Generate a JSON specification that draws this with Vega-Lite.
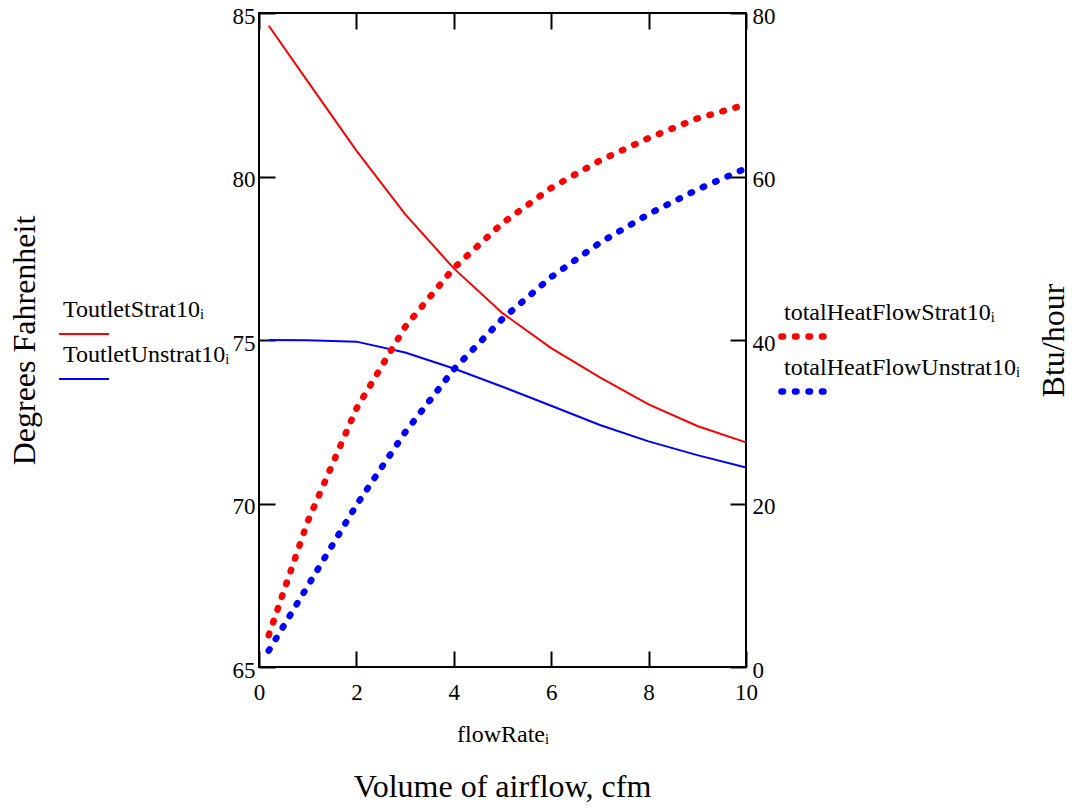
{
  "$schema": "https://vega.github.io/schema/vega-lite/v6.json",
  "width": 487,
  "height": 654,
  "autosize": {"type": "none"},
  "padding": {"left": 259, "top": 13, "right": 332, "bottom": 142},
  "background": "white",
  "config": {
    "font": "Liberation Serif",
    "view": {"stroke": "black", "strokeWidth": 2},
    "axis": {
      "domain": false,
      "grid": false,
      "tickColor": "black",
      "tickWidth": 2,
      "labelColor": "black",
      "titleColor": "black",
      "labelFont": "Liberation Serif",
      "titleFont": "Liberation Serif",
      "labelFontSize": 23,
      "labelFlush": false,
      "titleFontWeight": "normal"
    }
  },
  "title": {
    "text": "Volume of airflow, cfm",
    "orient": "bottom",
    "fontSize": 32,
    "fontWeight": "normal",
    "font": "Liberation Serif",
    "color": "black",
    "anchor": "middle",
    "offset": 26
  },
  "datasets": {
    "temp": [
      {"flowRate": 0.2, "series": "ToutletStrat10", "value": 84.61},
      {"flowRate": 1, "series": "ToutletStrat10", "value": 82.91},
      {"flowRate": 2, "series": "ToutletStrat10", "value": 80.79},
      {"flowRate": 3, "series": "ToutletStrat10", "value": 78.85},
      {"flowRate": 4, "series": "ToutletStrat10", "value": 77.19},
      {"flowRate": 5, "series": "ToutletStrat10", "value": 75.82},
      {"flowRate": 6, "series": "ToutletStrat10", "value": 74.75},
      {"flowRate": 7, "series": "ToutletStrat10", "value": 73.86},
      {"flowRate": 8, "series": "ToutletStrat10", "value": 73.03},
      {"flowRate": 9, "series": "ToutletStrat10", "value": 72.37},
      {"flowRate": 10, "series": "ToutletStrat10", "value": 71.87},
      {"flowRate": 0.2, "series": "ToutletUnstrat10", "value": 75.0},
      {"flowRate": 1, "series": "ToutletUnstrat10", "value": 74.99},
      {"flowRate": 2, "series": "ToutletUnstrat10", "value": 74.95},
      {"flowRate": 3, "series": "ToutletUnstrat10", "value": 74.62},
      {"flowRate": 4, "series": "ToutletUnstrat10", "value": 74.13},
      {"flowRate": 5, "series": "ToutletUnstrat10", "value": 73.57},
      {"flowRate": 6, "series": "ToutletUnstrat10", "value": 72.99},
      {"flowRate": 7, "series": "ToutletUnstrat10", "value": 72.4},
      {"flowRate": 8, "series": "ToutletUnstrat10", "value": 71.9},
      {"flowRate": 9, "series": "ToutletUnstrat10", "value": 71.48},
      {"flowRate": 10, "series": "ToutletUnstrat10", "value": 71.1}
    ],
    "heat": [
      {"flowRate": 0.2, "series": "totalHeatFlowStrat10", "value": 3.9},
      {"flowRate": 1, "series": "totalHeatFlowStrat10", "value": 17.8},
      {"flowRate": 2, "series": "totalHeatFlowStrat10", "value": 31.6},
      {"flowRate": 3, "series": "totalHeatFlowStrat10", "value": 41.6},
      {"flowRate": 4, "series": "totalHeatFlowStrat10", "value": 48.8},
      {"flowRate": 5, "series": "totalHeatFlowStrat10", "value": 54.3},
      {"flowRate": 6, "series": "totalHeatFlowStrat10", "value": 58.6},
      {"flowRate": 7, "series": "totalHeatFlowStrat10", "value": 61.95},
      {"flowRate": 8, "series": "totalHeatFlowStrat10", "value": 64.7},
      {"flowRate": 9, "series": "totalHeatFlowStrat10", "value": 67.1},
      {"flowRate": 10, "series": "totalHeatFlowStrat10", "value": 68.8},
      {"flowRate": 0.2, "series": "totalHeatFlowUnstrat10", "value": 2.0},
      {"flowRate": 1, "series": "totalHeatFlowUnstrat10", "value": 9.9},
      {"flowRate": 2, "series": "totalHeatFlowUnstrat10", "value": 19.8},
      {"flowRate": 3, "series": "totalHeatFlowUnstrat10", "value": 28.7},
      {"flowRate": 4, "series": "totalHeatFlowUnstrat10", "value": 36.4},
      {"flowRate": 5, "series": "totalHeatFlowUnstrat10", "value": 42.6},
      {"flowRate": 6, "series": "totalHeatFlowUnstrat10", "value": 47.7},
      {"flowRate": 7, "series": "totalHeatFlowUnstrat10", "value": 51.9},
      {"flowRate": 8, "series": "totalHeatFlowUnstrat10", "value": 55.4},
      {"flowRate": 9, "series": "totalHeatFlowUnstrat10", "value": 58.4},
      {"flowRate": 10, "series": "totalHeatFlowUnstrat10", "value": 61.0}
    ]
  },
  "layer": [
    {
      "data": {"name": "temp"},
      "mark": {"type": "line", "strokeWidth": 2},
      "encoding": {
        "x": {
          "field": "flowRate",
          "type": "quantitative",
          "scale": {"domain": [0, 10], "nice": false, "zero": false},
          "axis": {
            "orient": "bottom",
            "values": [0, 2, 4, 6, 8, 10],
            "tickSize": -16,
            "labelPadding": 30,
            "title": "flowRateᵢ",
            "titleFontSize": 24,
            "titlePadding": 18
          }
        },
        "y": {
          "field": "value",
          "type": "quantitative",
          "scale": {"domain": [65, 85], "nice": false, "zero": false},
          "axis": {
            "orient": "left",
            "values": [65, 70, 75, 80, 85],
            "tickSize": -16,
            "labelPadding": 20,
            "labelOffset": 3,
            "title": "Degrees Fahrenheit",
            "titleFontSize": 32,
            "titleAngle": -90,
            "titleBaseline": "alphabetic",
            "titleAlign": "center",
            "titleX": -225,
            "titleY": 327
          }
        },
        "color": {
          "field": "series",
          "type": "nominal",
          "scale": {"domain": ["ToutletStrat10", "ToutletUnstrat10"], "range": ["#ff0000", "#0000ff"]},
          "legend": {
            "orient": "none",
            "legendX": -201,
            "legendY": 295,
            "title": null,
            "direction": "vertical",
            "symbolType": "stroke",
            "symbolSize": 2500,
            "symbolStrokeWidth": 2,
            "labelFont": "Liberation Serif",
            "labelFontSize": 24,
            "labelColor": "black",
            "labelLimit": 0,
            "rowPadding": 5,
            "padding": 0,
            "labelExpr": "datum.label + 'ᵢ'",
            "encode": {"labels": {"update": {"dx": {"value": -51}, "dy": {"value": -24}}}}
          }
        }
      }
    },
    {
      "data": {"name": "heat"},
      "mark": {"type": "line", "strokeWidth": 6.5, "strokeDash": [1.5, 12], "strokeCap": "round"},
      "encoding": {
        "x": {
          "field": "flowRate",
          "type": "quantitative",
          "scale": {"domain": [0, 10], "nice": false, "zero": false},
          "axis": {
            "orient": "top",
            "values": [0, 2, 4, 6, 8, 10],
            "tickSize": -16,
            "labels": false,
            "title": null
          }
        },
        "y": {
          "field": "value",
          "type": "quantitative",
          "scale": {"domain": [0, 80], "nice": false, "zero": false},
          "axis": {
            "orient": "right",
            "values": [0, 20, 40, 60, 80],
            "tickSize": -16,
            "labelPadding": 22,
            "labelOffset": 3,
            "title": "Btu/hour",
            "titleFontSize": 32,
            "titleAngle": -90,
            "titleBaseline": "alphabetic",
            "titleAlign": "center",
            "titleX": 317,
            "titleY": 327
          }
        },
        "color": {
          "field": "series",
          "type": "nominal",
          "scale": {"domain": ["totalHeatFlowStrat10", "totalHeatFlowUnstrat10"], "range": ["#ff0000", "#0000ff"]},
          "legend": {
            "orient": "none",
            "legendX": 519,
            "legendY": 295,
            "title": null,
            "direction": "vertical",
            "symbolType": "stroke",
            "symbolSize": 2500,
            "symbolStrokeWidth": 6.5,
            "symbolDash": [1.5, 12],
            "labelFont": "Liberation Serif",
            "labelFontSize": 24,
            "labelColor": "black",
            "labelLimit": 0,
            "rowPadding": 5,
            "padding": 0,
            "labelExpr": "datum.label + 'ᵢ'",
            "encode": {
              "labels": {"update": {"dx": {"value": -55}, "dy": {"value": -24}}},
              "symbols": {"update": {"strokeCap": {"value": "round"}}}
            }
          }
        }
      }
    }
  ],
  "resolve": {"scale": {"y": "independent", "color": "independent"}, "axis": {"x": "independent"}}
}
